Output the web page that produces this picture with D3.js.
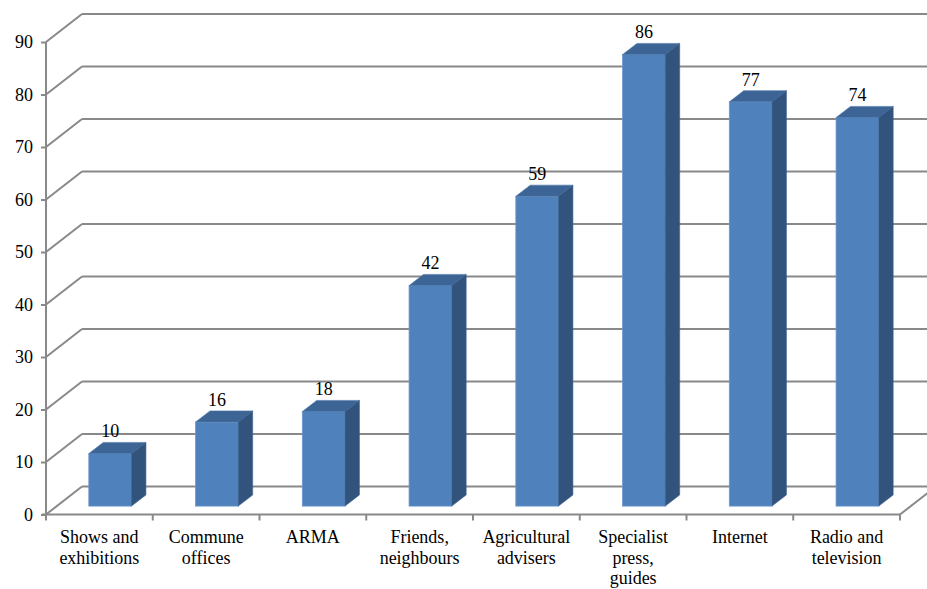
<!DOCTYPE html>
<html>
<head>
<meta charset="utf-8">
<script src="https://cdn.jsdelivr.net/npm/d3@7"></script>
<style>
  html, body { margin: 0; padding: 0; background: #fff; }
  svg { display: block; }
</style>
</head>
<body>
<svg id="chart" width="927" height="589"></svg>
<script>
// Sources of information (percent of respondents)
const categories = [
  "Shows and exhibitions", "Commune offices", "ARMA", "Friends, neighbours",
  "Agricultural advisers", "Specialist press, guides", "Internet", "Radio and television"
];
const categoryLines = [
  ["Shows and", "exhibitions"], ["Commune", "offices"], ["ARMA"], ["Friends,", "neighbours"],
  ["Agricultural", "advisers"], ["Specialist", "press,", "guides"], ["Internet"], ["Radio and", "television"]
];
const values = [10, 16, 18, 42, 59, 86, 77, 74];
const yTicks = [0, 10, 20, 30, 40, 50, 60, 70, 80, 90];

(function draw() {
  const svg = d3.select("#chart");
  const serif = "Liberation Serif";

  // Front plane of the plot box and the 3D depth offset
  const plotLeft = 46, plotRight = 900, plotBottom = 514.5, plotTop = 42;
  const depthX = 36, depthY = -28;
  const barFront = 0.3, barBack = 0.7;   // bars sit in the middle of the depth

  const x = d3.scaleBand().domain(categories).range([plotLeft, plotRight]).padding(0);
  const y = d3.scaleLinear().domain([0, 90]).range([plotBottom, plotTop]);
  const barW = x.bandwidth() * 0.4;

  const gridColor = "#898989";

  // Back wall gridlines and left wall diagonals
  const grid = svg.append("g");
  yTicks.forEach(t => {
    const yy = y(t);
    grid.append("line")
      .attr("x1", plotLeft + depthX).attr("y1", yy + depthY)
      .attr("x2", plotRight + depthX + 40).attr("y2", yy + depthY)
      .attr("stroke", gridColor).attr("stroke-width", 2);
    grid.append("line")
      .attr("x1", plotLeft).attr("y1", yy)
      .attr("x2", plotLeft + depthX).attr("y2", yy + depthY)
      .attr("stroke", gridColor).attr("stroke-width", 2);
  });

  // Floor front edge and right diagonal
  grid.append("line")
    .attr("x1", plotLeft - 4).attr("y1", plotBottom).attr("x2", plotRight).attr("y2", plotBottom)
    .attr("stroke", gridColor).attr("stroke-width", 2);
  grid.append("line")
    .attr("x1", plotRight).attr("y1", plotBottom)
    .attr("x2", plotRight + depthX).attr("y2", plotBottom + depthY)
    .attr("stroke", gridColor).attr("stroke-width", 2);

  // Value axis
  const yAxis = d3.axisLeft(y).tickValues(yTicks).tickSize(5).tickPadding(8);
  const gy = svg.append("g").attr("transform", `translate(${plotLeft},0)`).call(yAxis)
    .attr("font-family", serif).attr("font-size", 18);
  gy.select(".domain").attr("stroke", gridColor).attr("stroke-width", 2)
    .attr("d", `M0,${plotTop}V${plotBottom}`);
  gy.selectAll(".tick line").attr("stroke", gridColor).attr("stroke-width", 2);
  gy.selectAll(".tick text").attr("fill", "#000");

  // Category ticks under the floor
  const gx = svg.append("g");
  d3.range(categories.length + 1).forEach(i => {
    const xx = plotLeft + i * x.bandwidth();
    gx.append("line").attr("x1", xx).attr("x2", xx)
      .attr("y1", plotBottom).attr("y2", plotBottom + 6)
      .attr("stroke", gridColor).attr("stroke-width", 2);
  });

  // Bars: front, top and side faces
  const bars = svg.append("g").attr("font-family", serif).attr("font-size", 18);
  categories.forEach((c, i) => {
    const v = values[i];
    const fx = x(c) + (x.bandwidth() - barW) / 2 + depthX * barFront;
    const fy0 = y(0) + depthY * barFront;
    const fy1 = y(v) + depthY * barFront;
    const ddx = depthX * (barBack - barFront), ddy = depthY * (barBack - barFront);

    bars.append("rect")
      .attr("x", fx).attr("y", fy1).attr("width", barW).attr("height", fy0 - fy1)
      .attr("fill", "#4F81BD").attr("stroke", "#6C97CC").attr("stroke-width", 0.8);
    bars.append("path")
      .attr("d", `M${fx},${fy1}L${fx + ddx},${fy1 + ddy}L${fx + barW + ddx},${fy1 + ddy}L${fx + barW},${fy1}Z`)
      .attr("fill", "#3C6596").attr("stroke", "#4E78AA").attr("stroke-width", 0.6);
    bars.append("path")
      .attr("d", `M${fx + barW},${fy1}L${fx + barW + ddx},${fy1 + ddy}L${fx + barW + ddx},${fy0 + ddy}L${fx + barW},${fy0}Z`)
      .attr("fill", "#31537C").attr("stroke", "#3E6290").attr("stroke-width", 0.6);

    bars.append("text")
      .attr("x", fx + barW / 2).attr("y", fy1 + ddy - 5)
      .attr("text-anchor", "middle")
      .text(v);
  });

  // Category labels
  const labels = svg.append("g").attr("font-family", serif).attr("font-size", 18);
  categories.forEach((c, i) => {
    const cx = x(c) + x.bandwidth() / 2;
    const t = labels.append("text").attr("text-anchor", "middle");
    categoryLines[i].forEach((line, j) => {
      t.append("tspan").attr("x", cx).attr("y", 543 + j * 20.5).text(line);
    });
  });
})();
</script>
</body>
</html>
